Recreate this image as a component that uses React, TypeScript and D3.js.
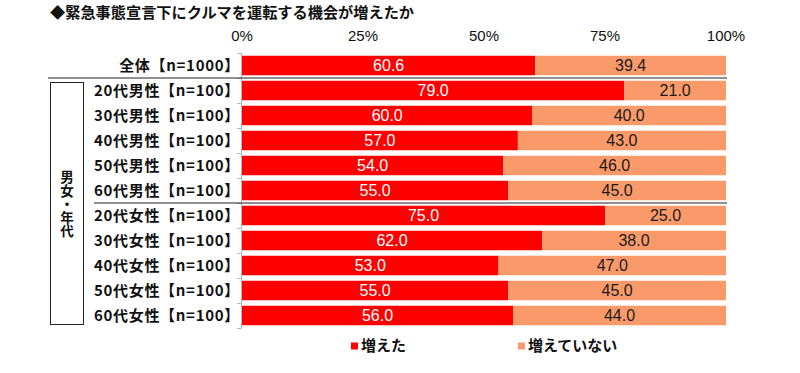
import * as d3 from "d3";
import { useEffect, useRef } from "react";

const title = "◆緊急事態宣言下にクルマを運転する機会が増えたか";
const categories = [
  "全体【n=1000】",
  "20代男性【n=100】",
  "30代男性【n=100】",
  "40代男性【n=100】",
  "50代男性【n=100】",
  "60代男性【n=100】",
  "20代女性【n=100】",
  "30代女性【n=100】",
  "40代女性【n=100】",
  "50代女性【n=100】",
  "60代女性【n=100】",
];
const increased = [60.6, 79.0, 60.0, 57.0, 54.0, 55.0, 75.0, 62.0, 53.0, 55.0, 56.0];
const notIncreased = [39.4, 21.0, 40.0, 43.0, 46.0, 45.0, 25.0, 38.0, 47.0, 45.0, 44.0];
const seriesNames = ["増えた", "増えていない"];
const tickValues = [0, 25, 50, 75, 100];
const groupLabel = "男女・年代";

const RED = "#ff0000";
const ORANGE = "#fa9a6a";
const jpFont = "'Noto Sans CJK JP', 'Noto Sans', sans-serif";
const numFont = "'Liberation Sans', Arial, sans-serif";

export default function App() {
  const ref = useRef<SVGSVGElement | null>(null);

  useEffect(() => {
    const width = 800;
    const height = 373;
    const svg = d3.select(ref.current);
    svg.selectAll("*").remove();
    svg.attr("width", width).attr("height", height);

    const x = d3.scaleLinear().domain([0, 100]).range([242, 726]);
    const y = d3.scaleBand().domain(categories).range([53, 328]).paddingInner(0.22).paddingOuter(0.11);

    // title
    svg
      .append("text")
      .attr("x", 50)
      .attr("y", 18)
      .attr("font-family", jpFont)
      .attr("font-weight", 700)
      .attr("font-size", 15.2)
      .attr("fill", "#111")
      .text(title);

    // top tick labels
    svg
      .append("g")
      .selectAll("text")
      .data(tickValues)
      .join("text")
      .attr("x", (d) => x(d))
      .attr("y", 40.5)
      .attr("text-anchor", "middle")
      .attr("font-family", numFont)
      .attr("font-size", 15)
      .attr("fill", "#111")
      .text((d) => `${d}%`);

    // left axis line with ticks at band boundaries
    const axis = svg.append("g").attr("stroke", "#b8b8b8").attr("stroke-width", 1);
    axis.append("line").attr("x1", 241.5).attr("x2", 241.5).attr("y1", 53).attr("y2", 328);
    const bounds = d3.range(categories.length + 1).map((i) => 53 + i * y.step());
    axis
      .selectAll("line.tk")
      .data(bounds)
      .join("line")
      .attr("class", "tk")
      .attr("x1", 237)
      .attr("x2", 241.5)
      .attr("y1", (d) => d + 0.5)
      .attr("y2", (d) => d + 0.5);

    const rows = svg
      .append("g")
      .selectAll("g")
      .data(categories)
      .join("g")
      .attr("transform", (d) => `translate(0,${y(d)})`);

    rows
      .append("rect")
      .attr("x", x(0))
      .attr("y", 0)
      .attr("width", (_, i) => x(increased[i]) - x(0))
      .attr("height", y.bandwidth())
      .attr("fill", RED);

    rows
      .append("rect")
      .attr("x", (_, i) => x(increased[i]))
      .attr("y", 0)
      .attr("width", (_, i) => x(increased[i] + notIncreased[i]) - x(increased[i]))
      .attr("height", y.bandwidth())
      .attr("fill", ORANGE);

    rows
      .append("text")
      .attr("x", (_, i) => (x(0) + x(increased[i])) / 2)
      .attr("y", y.bandwidth() / 2)
      .attr("dy", "0.36em")
      .attr("text-anchor", "middle")
      .attr("font-family", numFont)
      .attr("font-size", 16)
      .attr("fill", "#fff")
      .text((_, i) => increased[i].toFixed(1));

    rows
      .append("text")
      .attr("x", (_, i) => (x(increased[i]) + x(increased[i] + notIncreased[i])) / 2)
      .attr("y", y.bandwidth() / 2)
      .attr("dy", "0.36em")
      .attr("text-anchor", "middle")
      .attr("font-family", numFont)
      .attr("font-size", 16)
      .attr("fill", "#1a1a1a")
      .text((_, i) => notIncreased[i].toFixed(1));

    rows
      .append("text")
      .attr("x", 240)
      .attr("y", y.bandwidth() / 2)
      .attr("dy", "0.36em")
      .attr("text-anchor", "end")
      .attr("font-family", jpFont)
      .attr("font-weight", 700)
      .attr("font-size", 15)
      .attr("letter-spacing", 0.7)
      .attr("fill", "#111")
      .text((d) => d);

    // separators
    const sep1 = y(categories[0])! + y.bandwidth() + (y.step() - y.bandwidth()) / 2;
    const sep2 = y(categories[5])! + y.bandwidth() + (y.step() - y.bandwidth()) / 2;
    svg
      .append("line")
      .attr("x1", 48)
      .attr("x2", 727)
      .attr("y1", sep1)
      .attr("y2", sep1)
      .attr("stroke", "#222")
      .attr("stroke-width", 1.2);
    svg
      .append("line")
      .attr("x1", 94)
      .attr("x2", 727)
      .attr("y1", sep2)
      .attr("y2", sep2)
      .attr("stroke", "#222")
      .attr("stroke-width", 1.2);

    // group box
    svg
      .append("rect")
      .attr("x", 50.5)
      .attr("y", 82.5)
      .attr("width", 33)
      .attr("height", 242)
      .attr("fill", "none")
      .attr("stroke", "#222")
      .attr("stroke-width", 1);

    svg
      .append("text")
      .attr("x", 67)
      .attr("y", 204)
      .attr("text-anchor", "middle")
      .style("writing-mode", "vertical-rl")
      .style("text-orientation", "upright")
      .attr("font-family", jpFont)
      .attr("font-weight", 700)
      .attr("font-size", 13.5)
      .attr("fill", "#111")
      .text(groupLabel);

    // legend
    const legendX = [351, 518];
    const legend = svg
      .append("g")
      .selectAll("g")
      .data(seriesNames)
      .join("g")
      .attr("transform", (_, i) => `translate(${legendX[i]},346)`);
    legend
      .append("rect")
      .attr("x", 0)
      .attr("y", -3.5)
      .attr("width", 7)
      .attr("height", 7)
      .attr("fill", (_, i) => (i === 0 ? RED : ORANGE));
    legend
      .append("text")
      .attr("x", 10)
      .attr("y", 0)
      .attr("dy", "0.36em")
      .attr("font-family", jpFont)
      .attr("font-weight", 700)
      .attr("font-size", 15)
      .attr("fill", "#111")
      .text((d) => d);
  }, []);

  return (
    <svg
      ref={ref}
      style={{ position: "absolute", left: 0, top: 0, background: "#fff" }}
    />
  );
}
